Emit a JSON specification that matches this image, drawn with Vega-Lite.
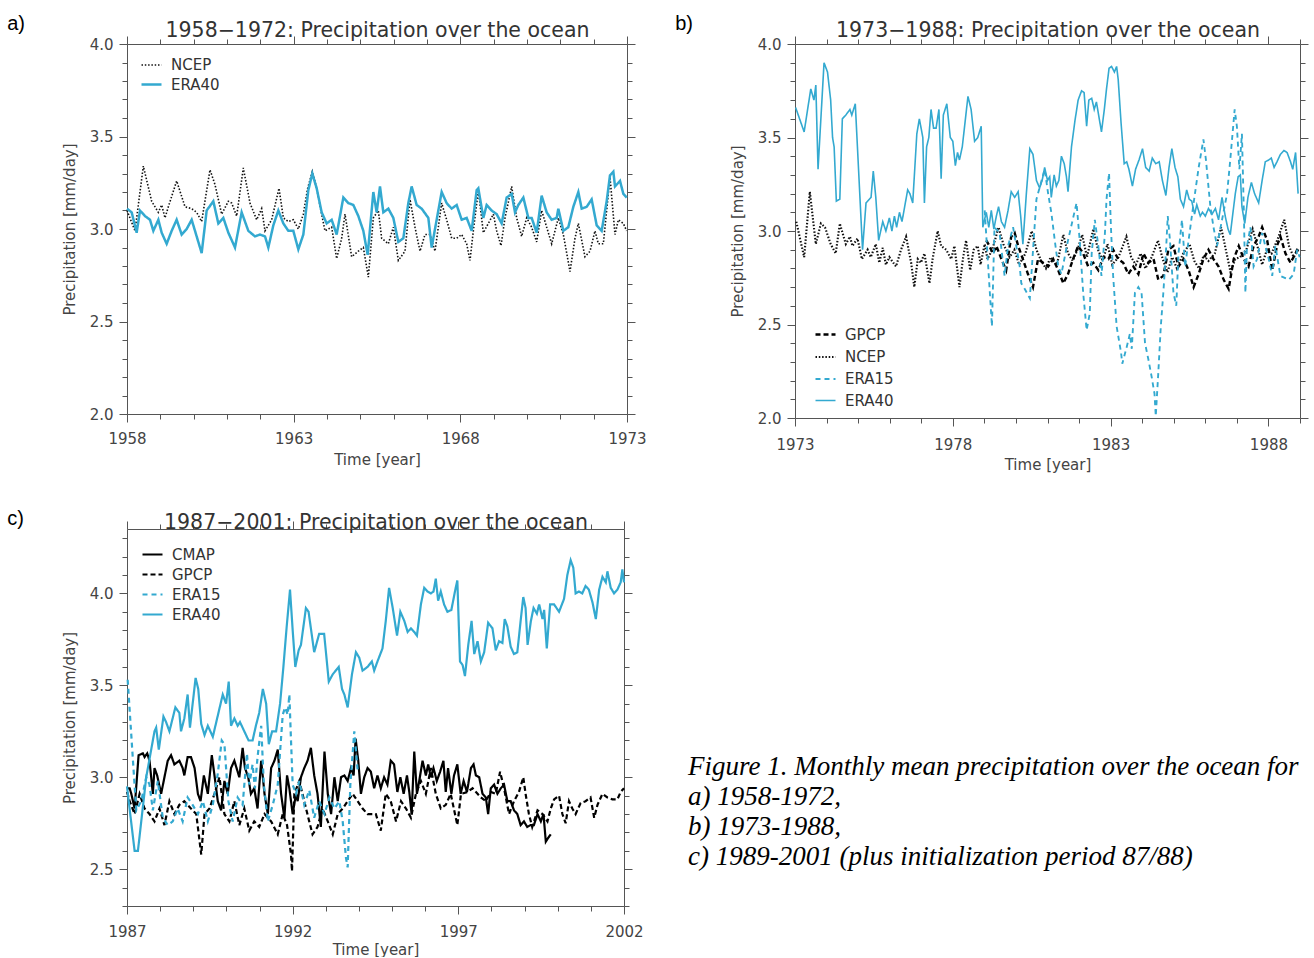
{
"$schema":"https://vega.github.io/schema/vega-lite/v6.json",
"padding":{"left":7,"top":13,"right":0,"bottom":0},
"background":"white",
"config":{
 "font":"DejaVu Sans",
 "view":{"stroke":null},
 "axis":{"domainColor":"#555","tickColor":"#555","labelColor":"#444","titleColor":"#444","labelFont":"DejaVu Sans","labelFontSize":15,"titleFont":"DejaVu Sans","titleFontSize":15,"titleFontWeight":"normal","grid":false,"labelFlush":false,"labelOverlap":false,"tickWidth":1,"domainWidth":1},
 "legend":{"title":null,"symbolType":"stroke","symbolSize":400,"labelFont":"DejaVu Sans","labelFontSize":15,"labelColor":"#333","padding":0,"labelOffset":8},
 "title":{"font":"Liberation Sans","fontSize":20,"fontWeight":"normal","color":"#000","anchor":"start","frame":"bounds"},
 "line":{"clip":true}
},
"resolve":{"scale":{"color":"independent","strokeDash":"independent","strokeWidth":"independent"}},
"datasets":{
"pa":[
{"set":"NCEP","year":1958.00,"mm":3.10},{"set":"NCEP","year":1958.24,"mm":2.99},{"set":"NCEP","year":1958.49,"mm":3.34},{"set":"NCEP","year":1958.74,"mm":3.15},{"set":"NCEP","year":1958.94,"mm":3.09},{"set":"NCEP","year":1959.04,"mm":3.13},{"set":"NCEP","year":1959.14,"mm":3.06},{"set":"NCEP","year":1959.24,"mm":3.12},{"set":"NCEP","year":1959.49,"mm":3.26},{"set":"NCEP","year":1959.74,"mm":3.12},{"set":"NCEP","year":1959.94,"mm":3.11},{"set":"NCEP","year":1960.09,"mm":3.09},{"set":"NCEP","year":1960.24,"mm":3.04},{"set":"NCEP","year":1960.49,"mm":3.32},{"set":"NCEP","year":1960.64,"mm":3.24},{"set":"NCEP","year":1960.84,"mm":3.08},{"set":"NCEP","year":1961.04,"mm":3.15},{"set":"NCEP","year":1961.14,"mm":3.14},{"set":"NCEP","year":1961.29,"mm":3.07},{"set":"NCEP","year":1961.49,"mm":3.33},{"set":"NCEP","year":1961.69,"mm":3.14},{"set":"NCEP","year":1961.89,"mm":3.05},{"set":"NCEP","year":1962.04,"mm":3.11},{"set":"NCEP","year":1962.14,"mm":2.99},{"set":"NCEP","year":1962.34,"mm":3.05},{"set":"NCEP","year":1962.56,"mm":3.22},{"set":"NCEP","year":1962.69,"mm":3.06},{"set":"NCEP","year":1962.84,"mm":3.04},{"set":"NCEP","year":1962.99,"mm":3.05},{"set":"NCEP","year":1963.14,"mm":3.00},{"set":"NCEP","year":1963.29,"mm":3.08},{"set":"NCEP","year":1963.42,"mm":3.22},{"set":"NCEP","year":1963.56,"mm":3.31},{"set":"NCEP","year":1963.69,"mm":3.22},{"set":"NCEP","year":1963.84,"mm":3.08},{"set":"NCEP","year":1963.94,"mm":2.99},{"set":"NCEP","year":1964.14,"mm":3.01},{"set":"NCEP","year":1964.29,"mm":2.84},{"set":"NCEP","year":1964.44,"mm":2.95},{"set":"NCEP","year":1964.54,"mm":3.08},{"set":"NCEP","year":1964.74,"mm":2.85},{"set":"NCEP","year":1964.94,"mm":2.88},{"set":"NCEP","year":1965.09,"mm":2.90},{"set":"NCEP","year":1965.24,"mm":2.74},{"set":"NCEP","year":1965.39,"mm":3.06},{"set":"NCEP","year":1965.54,"mm":3.10},{"set":"NCEP","year":1965.64,"mm":2.95},{"set":"NCEP","year":1965.84,"mm":2.92},{"set":"NCEP","year":1965.99,"mm":3.01},{"set":"NCEP","year":1966.14,"mm":2.83},{"set":"NCEP","year":1966.34,"mm":2.88},{"set":"NCEP","year":1966.49,"mm":3.16},{"set":"NCEP","year":1966.64,"mm":3.01},{"set":"NCEP","year":1966.79,"mm":2.88},{"set":"NCEP","year":1966.94,"mm":2.97},{"set":"NCEP","year":1967.09,"mm":2.97},{"set":"NCEP","year":1967.24,"mm":2.88},{"set":"NCEP","year":1967.44,"mm":3.14},{"set":"NCEP","year":1967.59,"mm":3.05},{"set":"NCEP","year":1967.74,"mm":2.95},{"set":"NCEP","year":1967.89,"mm":2.95},{"set":"NCEP","year":1968.04,"mm":2.97},{"set":"NCEP","year":1968.19,"mm":2.92},{"set":"NCEP","year":1968.29,"mm":2.83},{"set":"NCEP","year":1968.39,"mm":2.99},{"set":"NCEP","year":1968.54,"mm":3.21},{"set":"NCEP","year":1968.69,"mm":2.98},{"set":"NCEP","year":1968.84,"mm":3.03},{"set":"NCEP","year":1968.99,"mm":3.08},{"set":"NCEP","year":1969.09,"mm":2.99},{"set":"NCEP","year":1969.22,"mm":2.91},{"set":"NCEP","year":1969.34,"mm":3.06},{"set":"NCEP","year":1969.54,"mm":3.23},{"set":"NCEP","year":1969.69,"mm":3.06},{"set":"NCEP","year":1969.84,"mm":2.96},{"set":"NCEP","year":1969.99,"mm":3.06},{"set":"NCEP","year":1970.14,"mm":3.01},{"set":"NCEP","year":1970.29,"mm":2.93},{"set":"NCEP","year":1970.44,"mm":3.10},{"set":"NCEP","year":1970.59,"mm":3.01},{"set":"NCEP","year":1970.74,"mm":2.92},{"set":"NCEP","year":1970.94,"mm":3.06},{"set":"NCEP","year":1971.09,"mm":2.97},{"set":"NCEP","year":1971.29,"mm":2.77},{"set":"NCEP","year":1971.44,"mm":2.95},{"set":"NCEP","year":1971.54,"mm":3.03},{"set":"NCEP","year":1971.74,"mm":2.85},{"set":"NCEP","year":1971.89,"mm":2.88},{"set":"NCEP","year":1972.04,"mm":2.99},{"set":"NCEP","year":1972.14,"mm":2.92},{"set":"NCEP","year":1972.29,"mm":2.92},{"set":"NCEP","year":1972.49,"mm":3.28},{"set":"NCEP","year":1972.64,"mm":2.97},{"set":"NCEP","year":1972.74,"mm":3.05},{"set":"NCEP","year":1972.89,"mm":3.03},{"set":"NCEP","year":1972.99,"mm":2.99},
{"set":"ERA40","year":1958.00,"mm":3.11},{"set":"ERA40","year":1958.14,"mm":3.09},{"set":"ERA40","year":1958.29,"mm":2.98},{"set":"ERA40","year":1958.39,"mm":3.10},{"set":"ERA40","year":1958.54,"mm":3.07},{"set":"ERA40","year":1958.69,"mm":3.05},{"set":"ERA40","year":1958.79,"mm":2.99},{"set":"ERA40","year":1958.94,"mm":3.05},{"set":"ERA40","year":1959.04,"mm":2.98},{"set":"ERA40","year":1959.19,"mm":2.92},{"set":"ERA40","year":1959.34,"mm":2.99},{"set":"ERA40","year":1959.49,"mm":3.05},{"set":"ERA40","year":1959.64,"mm":2.97},{"set":"ERA40","year":1959.79,"mm":3.00},{"set":"ERA40","year":1959.94,"mm":3.05},{"set":"ERA40","year":1960.09,"mm":2.96},{"set":"ERA40","year":1960.24,"mm":2.87},{"set":"ERA40","year":1960.39,"mm":3.10},{"set":"ERA40","year":1960.59,"mm":3.15},{"set":"ERA40","year":1960.74,"mm":3.03},{"set":"ERA40","year":1960.89,"mm":3.06},{"set":"ERA40","year":1961.04,"mm":2.98},{"set":"ERA40","year":1961.24,"mm":2.90},{"set":"ERA40","year":1961.44,"mm":3.09},{"set":"ERA40","year":1961.64,"mm":2.99},{"set":"ERA40","year":1961.84,"mm":2.96},{"set":"ERA40","year":1961.99,"mm":2.97},{"set":"ERA40","year":1962.14,"mm":2.96},{"set":"ERA40","year":1962.24,"mm":2.90},{"set":"ERA40","year":1962.39,"mm":3.02},{"set":"ERA40","year":1962.54,"mm":3.10},{"set":"ERA40","year":1962.69,"mm":3.03},{"set":"ERA40","year":1962.84,"mm":2.99},{"set":"ERA40","year":1962.99,"mm":2.99},{"set":"ERA40","year":1963.14,"mm":2.89},{"set":"ERA40","year":1963.29,"mm":2.97},{"set":"ERA40","year":1963.44,"mm":3.21},{"set":"ERA40","year":1963.56,"mm":3.30},{"set":"ERA40","year":1963.69,"mm":3.22},{"set":"ERA40","year":1963.84,"mm":3.09},{"set":"ERA40","year":1963.99,"mm":3.03},{"set":"ERA40","year":1964.14,"mm":3.05},{"set":"ERA40","year":1964.29,"mm":2.97},{"set":"ERA40","year":1964.49,"mm":3.17},{"set":"ERA40","year":1964.64,"mm":3.14},{"set":"ERA40","year":1964.79,"mm":3.13},{"set":"ERA40","year":1964.94,"mm":3.07},{"set":"ERA40","year":1965.09,"mm":2.99},{"set":"ERA40","year":1965.22,"mm":2.86},{"set":"ERA40","year":1965.39,"mm":3.20},{"set":"ERA40","year":1965.49,"mm":3.09},{"set":"ERA40","year":1965.59,"mm":3.23},{"set":"ERA40","year":1965.69,"mm":3.09},{"set":"ERA40","year":1965.84,"mm":3.11},{"set":"ERA40","year":1965.99,"mm":3.06},{"set":"ERA40","year":1966.14,"mm":2.93},{"set":"ERA40","year":1966.29,"mm":2.95},{"set":"ERA40","year":1966.44,"mm":3.14},{"set":"ERA40","year":1966.54,"mm":3.23},{"set":"ERA40","year":1966.69,"mm":3.13},{"set":"ERA40","year":1966.84,"mm":3.11},{"set":"ERA40","year":1967.04,"mm":3.06},{"set":"ERA40","year":1967.14,"mm":2.90},{"set":"ERA40","year":1967.29,"mm":3.05},{"set":"ERA40","year":1967.44,"mm":3.20},{"set":"ERA40","year":1967.59,"mm":3.14},{"set":"ERA40","year":1967.74,"mm":3.11},{"set":"ERA40","year":1967.89,"mm":3.13},{"set":"ERA40","year":1968.04,"mm":3.05},{"set":"ERA40","year":1968.19,"mm":3.06},{"set":"ERA40","year":1968.34,"mm":2.99},{"set":"ERA40","year":1968.49,"mm":3.21},{"set":"ERA40","year":1968.54,"mm":3.22},{"set":"ERA40","year":1968.69,"mm":3.06},{"set":"ERA40","year":1968.79,"mm":3.13},{"set":"ERA40","year":1968.94,"mm":3.10},{"set":"ERA40","year":1969.09,"mm":3.08},{"set":"ERA40","year":1969.24,"mm":3.03},{"set":"ERA40","year":1969.39,"mm":3.17},{"set":"ERA40","year":1969.54,"mm":3.19},{"set":"ERA40","year":1969.64,"mm":3.09},{"set":"ERA40","year":1969.74,"mm":3.13},{"set":"ERA40","year":1969.89,"mm":3.17},{"set":"ERA40","year":1970.04,"mm":3.06},{"set":"ERA40","year":1970.14,"mm":3.06},{"set":"ERA40","year":1970.29,"mm":2.98},{"set":"ERA40","year":1970.44,"mm":3.18},{"set":"ERA40","year":1970.59,"mm":3.09},{"set":"ERA40","year":1970.74,"mm":3.05},{"set":"ERA40","year":1970.89,"mm":3.06},{"set":"ERA40","year":1970.94,"mm":3.11},{"set":"ERA40","year":1971.09,"mm":2.99},{"set":"ERA40","year":1971.24,"mm":3.01},{"set":"ERA40","year":1971.39,"mm":3.12},{"set":"ERA40","year":1971.54,"mm":3.20},{"set":"ERA40","year":1971.64,"mm":3.11},{"set":"ERA40","year":1971.79,"mm":3.12},{"set":"ERA40","year":1971.94,"mm":3.16},{"set":"ERA40","year":1972.09,"mm":3.02},{"set":"ERA40","year":1972.24,"mm":2.99},{"set":"ERA40","year":1972.39,"mm":3.15},{"set":"ERA40","year":1972.49,"mm":3.29},{"set":"ERA40","year":1972.59,"mm":3.31},{"set":"ERA40","year":1972.64,"mm":3.23},{"set":"ERA40","year":1972.79,"mm":3.26},{"set":"ERA40","year":1972.89,"mm":3.19},{"set":"ERA40","year":1972.99,"mm":3.17}
],
"pb":[
{"set":"NCEP","year":1973.04,"mm":3.05},{"set":"NCEP","year":1973.29,"mm":2.86},{"set":"NCEP","year":1973.47,"mm":3.21},{"set":"NCEP","year":1973.66,"mm":2.93},{"set":"NCEP","year":1973.82,"mm":3.04},{"set":"NCEP","year":1973.95,"mm":3.02},{"set":"NCEP","year":1974.13,"mm":2.93},{"set":"NCEP","year":1974.29,"mm":2.88},{"set":"NCEP","year":1974.42,"mm":3.04},{"set":"NCEP","year":1974.61,"mm":2.93},{"set":"NCEP","year":1974.74,"mm":2.97},{"set":"NCEP","year":1974.82,"mm":2.92},{"set":"NCEP","year":1974.98,"mm":2.96},{"set":"NCEP","year":1975.12,"mm":2.85},{"set":"NCEP","year":1975.30,"mm":2.90},{"set":"NCEP","year":1975.40,"mm":2.86},{"set":"NCEP","year":1975.56,"mm":2.93},{"set":"NCEP","year":1975.67,"mm":2.83},{"set":"NCEP","year":1975.78,"mm":2.91},{"set":"NCEP","year":1975.88,"mm":2.82},{"set":"NCEP","year":1975.99,"mm":2.86},{"set":"NCEP","year":1976.20,"mm":2.81},{"set":"NCEP","year":1976.36,"mm":2.90},{"set":"NCEP","year":1976.52,"mm":2.97},{"set":"NCEP","year":1976.68,"mm":2.83},{"set":"NCEP","year":1976.78,"mm":2.70},{"set":"NCEP","year":1976.89,"mm":2.85},{"set":"NCEP","year":1976.99,"mm":2.83},{"set":"NCEP","year":1977.10,"mm":2.88},{"set":"NCEP","year":1977.26,"mm":2.72},{"set":"NCEP","year":1977.36,"mm":2.85},{"set":"NCEP","year":1977.52,"mm":3.00},{"set":"NCEP","year":1977.63,"mm":2.92},{"set":"NCEP","year":1977.79,"mm":2.90},{"set":"NCEP","year":1977.95,"mm":2.85},{"set":"NCEP","year":1978.05,"mm":2.92},{"set":"NCEP","year":1978.21,"mm":2.70},{"set":"NCEP","year":1978.32,"mm":2.85},{"set":"NCEP","year":1978.42,"mm":2.95},{"set":"NCEP","year":1978.55,"mm":2.79},{"set":"NCEP","year":1978.66,"mm":2.90},{"set":"NCEP","year":1978.79,"mm":2.92},{"set":"NCEP","year":1978.88,"mm":2.82},{"set":"NCEP","year":1979.01,"mm":2.93},{"set":"NCEP","year":1979.10,"mm":2.85},{"set":"NCEP","year":1979.25,"mm":2.90},{"set":"NCEP","year":1979.45,"mm":3.02},{"set":"NCEP","year":1979.60,"mm":2.93},{"set":"NCEP","year":1979.80,"mm":2.86},{"set":"NCEP","year":1979.95,"mm":2.90},{"set":"NCEP","year":1980.10,"mm":2.82},{"set":"NCEP","year":1980.30,"mm":2.88},{"set":"NCEP","year":1980.50,"mm":3.00},{"set":"NCEP","year":1980.65,"mm":2.90},{"set":"NCEP","year":1980.80,"mm":2.84},{"set":"NCEP","year":1980.95,"mm":2.80},{"set":"NCEP","year":1981.10,"mm":2.86},{"set":"NCEP","year":1981.30,"mm":2.82},{"set":"NCEP","year":1981.50,"mm":2.98},{"set":"NCEP","year":1981.65,"mm":2.88},{"set":"NCEP","year":1981.80,"mm":2.84},{"set":"NCEP","year":1981.95,"mm":2.90},{"set":"NCEP","year":1982.10,"mm":2.98},{"set":"NCEP","year":1982.25,"mm":2.86},{"set":"NCEP","year":1982.45,"mm":3.01},{"set":"NCEP","year":1982.60,"mm":2.90},{"set":"NCEP","year":1982.75,"mm":2.84},{"set":"NCEP","year":1982.90,"mm":2.93},{"set":"NCEP","year":1983.05,"mm":2.82},{"set":"NCEP","year":1983.25,"mm":2.86},{"set":"NCEP","year":1983.50,"mm":2.97},{"set":"NCEP","year":1983.65,"mm":2.86},{"set":"NCEP","year":1983.80,"mm":2.82},{"set":"NCEP","year":1983.95,"mm":2.88},{"set":"NCEP","year":1984.10,"mm":2.80},{"set":"NCEP","year":1984.30,"mm":2.86},{"set":"NCEP","year":1984.50,"mm":2.95},{"set":"NCEP","year":1984.65,"mm":2.85},{"set":"NCEP","year":1984.80,"mm":2.78},{"set":"NCEP","year":1984.95,"mm":2.86},{"set":"NCEP","year":1985.10,"mm":2.80},{"set":"NCEP","year":1985.30,"mm":2.88},{"set":"NCEP","year":1985.50,"mm":2.93},{"set":"NCEP","year":1985.65,"mm":2.84},{"set":"NCEP","year":1985.80,"mm":2.80},{"set":"NCEP","year":1985.95,"mm":2.87},{"set":"NCEP","year":1986.10,"mm":2.84},{"set":"NCEP","year":1986.30,"mm":2.88},{"set":"NCEP","year":1986.50,"mm":3.02},{"set":"NCEP","year":1986.65,"mm":2.90},{"set":"NCEP","year":1986.80,"mm":2.78},{"set":"NCEP","year":1986.95,"mm":2.85},{"set":"NCEP","year":1987.10,"mm":2.86},{"set":"NCEP","year":1987.30,"mm":2.90},{"set":"NCEP","year":1987.50,"mm":3.01},{"set":"NCEP","year":1987.65,"mm":2.92},{"set":"NCEP","year":1987.80,"mm":2.82},{"set":"NCEP","year":1987.95,"mm":2.90},{"set":"NCEP","year":1988.10,"mm":2.88},{"set":"NCEP","year":1988.30,"mm":2.96},{"set":"NCEP","year":1988.50,"mm":3.06},{"set":"NCEP","year":1988.65,"mm":2.92},{"set":"NCEP","year":1988.80,"mm":2.86},{"set":"NCEP","year":1988.95,"mm":2.90},
{"set":"GPCP","year":1979.06,"mm":2.95},{"set":"GPCP","year":1979.16,"mm":2.92},{"set":"GPCP","year":1979.27,"mm":2.88},{"set":"GPCP","year":1979.38,"mm":2.92},{"set":"GPCP","year":1979.54,"mm":2.85},{"set":"GPCP","year":1979.69,"mm":2.79},{"set":"GPCP","year":1979.85,"mm":2.97},{"set":"GPCP","year":1979.96,"mm":2.99},{"set":"GPCP","year":1980.07,"mm":2.92},{"set":"GPCP","year":1980.22,"mm":2.85},{"set":"GPCP","year":1980.38,"mm":2.77},{"set":"GPCP","year":1980.54,"mm":2.70},{"set":"GPCP","year":1980.70,"mm":2.85},{"set":"GPCP","year":1980.86,"mm":2.83},{"set":"GPCP","year":1981.02,"mm":2.81},{"set":"GPCP","year":1981.18,"mm":2.85},{"set":"GPCP","year":1981.34,"mm":2.79},{"set":"GPCP","year":1981.50,"mm":2.72},{"set":"GPCP","year":1981.65,"mm":2.77},{"set":"GPCP","year":1981.81,"mm":2.85},{"set":"GPCP","year":1981.97,"mm":2.92},{"set":"GPCP","year":1982.13,"mm":2.88},{"set":"GPCP","year":1982.29,"mm":2.81},{"set":"GPCP","year":1982.45,"mm":2.83},{"set":"GPCP","year":1982.61,"mm":2.79},{"set":"GPCP","year":1982.77,"mm":2.86},{"set":"GPCP","year":1982.93,"mm":2.85},{"set":"GPCP","year":1983.08,"mm":2.90},{"set":"GPCP","year":1983.24,"mm":2.85},{"set":"GPCP","year":1983.40,"mm":2.83},{"set":"GPCP","year":1983.56,"mm":2.77},{"set":"GPCP","year":1983.72,"mm":2.81},{"set":"GPCP","year":1983.88,"mm":2.77},{"set":"GPCP","year":1984.04,"mm":2.88},{"set":"GPCP","year":1984.20,"mm":2.83},{"set":"GPCP","year":1984.36,"mm":2.85},{"set":"GPCP","year":1984.51,"mm":2.74},{"set":"GPCP","year":1984.67,"mm":2.76},{"set":"GPCP","year":1984.83,"mm":2.90},{"set":"GPCP","year":1984.99,"mm":2.92},{"set":"GPCP","year":1985.15,"mm":2.81},{"set":"GPCP","year":1985.31,"mm":2.85},{"set":"GPCP","year":1985.47,"mm":2.79},{"set":"GPCP","year":1985.63,"mm":2.70},{"set":"GPCP","year":1985.79,"mm":2.77},{"set":"GPCP","year":1985.94,"mm":2.85},{"set":"GPCP","year":1986.10,"mm":2.90},{"set":"GPCP","year":1986.26,"mm":2.85},{"set":"GPCP","year":1986.42,"mm":2.81},{"set":"GPCP","year":1986.58,"mm":2.74},{"set":"GPCP","year":1986.74,"mm":2.69},{"set":"GPCP","year":1986.90,"mm":2.85},{"set":"GPCP","year":1987.06,"mm":2.92},{"set":"GPCP","year":1987.22,"mm":2.85},{"set":"GPCP","year":1987.37,"mm":2.81},{"set":"GPCP","year":1987.53,"mm":2.92},{"set":"GPCP","year":1987.69,"mm":2.97},{"set":"GPCP","year":1987.80,"mm":3.02},{"set":"GPCP","year":1987.96,"mm":2.95},{"set":"GPCP","year":1988.12,"mm":2.79},{"set":"GPCP","year":1988.27,"mm":2.92},{"set":"GPCP","year":1988.38,"mm":2.97},{"set":"GPCP","year":1988.54,"mm":2.88},{"set":"GPCP","year":1988.70,"mm":2.83},{"set":"GPCP","year":1988.86,"mm":2.88},{"set":"GPCP","year":1988.96,"mm":2.92},
{"set":"ERA15","year":1979.01,"mm":3.11},{"set":"ERA15","year":1979.24,"mm":2.49},{"set":"ERA15","year":1979.32,"mm":3.02},{"set":"ERA15","year":1979.48,"mm":2.99},{"set":"ERA15","year":1979.64,"mm":2.76},{"set":"ERA15","year":1979.75,"mm":2.92},{"set":"ERA15","year":1979.91,"mm":3.02},{"set":"ERA15","year":1980.01,"mm":2.92},{"set":"ERA15","year":1980.12,"mm":2.81},{"set":"ERA15","year":1980.17,"mm":2.72},{"set":"ERA15","year":1980.28,"mm":2.69},{"set":"ERA15","year":1980.44,"mm":2.64},{"set":"ERA15","year":1980.59,"mm":3.02},{"set":"ERA15","year":1980.65,"mm":3.17},{"set":"ERA15","year":1980.91,"mm":3.33},{"set":"ERA15","year":1981.02,"mm":3.20},{"set":"ERA15","year":1981.12,"mm":3.10},{"set":"ERA15","year":1981.23,"mm":2.95},{"set":"ERA15","year":1981.34,"mm":2.81},{"set":"ERA15","year":1981.44,"mm":2.77},{"set":"ERA15","year":1981.65,"mm":2.95},{"set":"ERA15","year":1981.92,"mm":3.15},{"set":"ERA15","year":1982.02,"mm":2.95},{"set":"ERA15","year":1982.13,"mm":2.67},{"set":"ERA15","year":1982.24,"mm":2.47},{"set":"ERA15","year":1982.34,"mm":2.56},{"set":"ERA15","year":1982.40,"mm":2.88},{"set":"ERA15","year":1982.50,"mm":3.06},{"set":"ERA15","year":1982.61,"mm":2.92},{"set":"ERA15","year":1982.71,"mm":2.76},{"set":"ERA15","year":1982.82,"mm":2.99},{"set":"ERA15","year":1982.87,"mm":3.17},{"set":"ERA15","year":1982.95,"mm":3.31},{"set":"ERA15","year":1983.01,"mm":3.02},{"set":"ERA15","year":1983.08,"mm":2.76},{"set":"ERA15","year":1983.19,"mm":2.49},{"set":"ERA15","year":1983.33,"mm":2.35},{"set":"ERA15","year":1983.37,"mm":2.29},{"set":"ERA15","year":1983.51,"mm":2.38},{"set":"ERA15","year":1983.61,"mm":2.45},{"set":"ERA15","year":1983.67,"mm":2.37},{"set":"ERA15","year":1983.77,"mm":2.67},{"set":"ERA15","year":1983.88,"mm":2.70},{"set":"ERA15","year":1983.98,"mm":2.67},{"set":"ERA15","year":1984.09,"mm":2.40},{"set":"ERA15","year":1984.20,"mm":2.31},{"set":"ERA15","year":1984.30,"mm":2.22},{"set":"ERA15","year":1984.39,"mm":2.13},{"set":"ERA15","year":1984.43,"mm":2.01},{"set":"ERA15","year":1984.51,"mm":2.24},{"set":"ERA15","year":1984.59,"mm":2.49},{"set":"ERA15","year":1984.67,"mm":2.67},{"set":"ERA15","year":1984.75,"mm":2.88},{"set":"ERA15","year":1984.81,"mm":3.08},{"set":"ERA15","year":1984.88,"mm":2.95},{"set":"ERA15","year":1984.99,"mm":2.67},{"set":"ERA15","year":1985.08,"mm":2.60},{"set":"ERA15","year":1985.15,"mm":2.88},{"set":"ERA15","year":1985.26,"mm":3.06},{"set":"ERA15","year":1985.36,"mm":2.81},{"set":"ERA15","year":1985.47,"mm":2.95},{"set":"ERA15","year":1985.63,"mm":3.15},{"set":"ERA15","year":1985.79,"mm":3.34},{"set":"ERA15","year":1985.94,"mm":3.49},{"set":"ERA15","year":1986.02,"mm":3.38},{"set":"ERA15","year":1986.16,"mm":3.13},{"set":"ERA15","year":1986.26,"mm":3.02},{"set":"ERA15","year":1986.37,"mm":2.92},{"set":"ERA15","year":1986.53,"mm":3.06},{"set":"ERA15","year":1986.69,"mm":3.20},{"set":"ERA15","year":1986.79,"mm":3.38},{"set":"ERA15","year":1986.93,"mm":3.65},{"set":"ERA15","year":1987.00,"mm":3.56},{"set":"ERA15","year":1987.08,"mm":3.33},{"set":"ERA15","year":1987.16,"mm":3.52},{"set":"ERA15","year":1987.22,"mm":3.11},{"set":"ERA15","year":1987.27,"mm":2.67},{"set":"ERA15","year":1987.32,"mm":2.92},{"set":"ERA15","year":1987.43,"mm":3.02},{"set":"ERA15","year":1987.53,"mm":2.81},{"set":"ERA15","year":1987.64,"mm":2.85},{"set":"ERA15","year":1987.80,"mm":2.99},{"set":"ERA15","year":1987.90,"mm":2.92},{"set":"ERA15","year":1988.01,"mm":2.85},{"set":"ERA15","year":1988.12,"mm":2.76},{"set":"ERA15","year":1988.22,"mm":2.92},{"set":"ERA15","year":1988.38,"mm":2.76},{"set":"ERA15","year":1988.65,"mm":2.74},{"set":"ERA15","year":1988.80,"mm":2.77},{"set":"ERA15","year":1988.91,"mm":2.90},{"set":"ERA15","year":1988.99,"mm":2.86},
{"set":"ERA40","year":1973.02,"mm":3.66},{"set":"ERA40","year":1973.29,"mm":3.53},{"set":"ERA40","year":1973.50,"mm":3.76},{"set":"ERA40","year":1973.60,"mm":3.70},{"set":"ERA40","year":1973.66,"mm":3.78},{"set":"ERA40","year":1973.73,"mm":3.33},{"set":"ERA40","year":1973.92,"mm":3.90},{"set":"ERA40","year":1974.03,"mm":3.85},{"set":"ERA40","year":1974.13,"mm":3.70},{"set":"ERA40","year":1974.19,"mm":3.50},{"set":"ERA40","year":1974.24,"mm":3.45},{"set":"ERA40","year":1974.31,"mm":3.16},{"set":"ERA40","year":1974.42,"mm":3.17},{"set":"ERA40","year":1974.50,"mm":3.60},{"set":"ERA40","year":1974.61,"mm":3.62},{"set":"ERA40","year":1974.74,"mm":3.65},{"set":"ERA40","year":1974.80,"mm":3.62},{"set":"ERA40","year":1974.91,"mm":3.68},{"set":"ERA40","year":1975.14,"mm":2.90},{"set":"ERA40","year":1975.25,"mm":3.15},{"set":"ERA40","year":1975.41,"mm":3.18},{"set":"ERA40","year":1975.48,"mm":3.32},{"set":"ERA40","year":1975.56,"mm":3.18},{"set":"ERA40","year":1975.65,"mm":2.95},{"set":"ERA40","year":1975.78,"mm":3.05},{"set":"ERA40","year":1975.88,"mm":3.00},{"set":"ERA40","year":1975.99,"mm":3.07},{"set":"ERA40","year":1976.07,"mm":3.00},{"set":"ERA40","year":1976.15,"mm":3.08},{"set":"ERA40","year":1976.22,"mm":3.02},{"set":"ERA40","year":1976.31,"mm":3.10},{"set":"ERA40","year":1976.39,"mm":3.05},{"set":"ERA40","year":1976.57,"mm":3.22},{"set":"ERA40","year":1976.64,"mm":3.20},{"set":"ERA40","year":1976.73,"mm":3.15},{"set":"ERA40","year":1976.86,"mm":3.52},{"set":"ERA40","year":1976.94,"mm":3.60},{"set":"ERA40","year":1977.05,"mm":3.50},{"set":"ERA40","year":1977.10,"mm":3.15},{"set":"ERA40","year":1977.17,"mm":3.45},{"set":"ERA40","year":1977.24,"mm":3.50},{"set":"ERA40","year":1977.31,"mm":3.65},{"set":"ERA40","year":1977.39,"mm":3.55},{"set":"ERA40","year":1977.47,"mm":3.55},{"set":"ERA40","year":1977.56,"mm":3.65},{"set":"ERA40","year":1977.63,"mm":3.28},{"set":"ERA40","year":1977.70,"mm":3.62},{"set":"ERA40","year":1977.81,"mm":3.68},{"set":"ERA40","year":1977.92,"mm":3.50},{"set":"ERA40","year":1978.00,"mm":3.48},{"set":"ERA40","year":1978.08,"mm":3.35},{"set":"ERA40","year":1978.15,"mm":3.42},{"set":"ERA40","year":1978.21,"mm":3.38},{"set":"ERA40","year":1978.30,"mm":3.45},{"set":"ERA40","year":1978.40,"mm":3.60},{"set":"ERA40","year":1978.48,"mm":3.72},{"set":"ERA40","year":1978.58,"mm":3.65},{"set":"ERA40","year":1978.69,"mm":3.48},{"set":"ERA40","year":1978.79,"mm":3.50},{"set":"ERA40","year":1978.90,"mm":3.56},{"set":"ERA40","year":1978.95,"mm":3.02},{"set":"ERA40","year":1979.06,"mm":3.10},{"set":"ERA40","year":1979.14,"mm":3.02},{"set":"ERA40","year":1979.22,"mm":3.11},{"set":"ERA40","year":1979.30,"mm":3.01},{"set":"ERA40","year":1979.38,"mm":3.08},{"set":"ERA40","year":1979.45,"mm":3.13},{"set":"ERA40","year":1979.54,"mm":3.05},{"set":"ERA40","year":1979.64,"mm":3.02},{"set":"ERA40","year":1979.75,"mm":3.11},{"set":"ERA40","year":1979.85,"mm":3.21},{"set":"ERA40","year":1979.96,"mm":3.18},{"set":"ERA40","year":1980.07,"mm":3.21},{"set":"ERA40","year":1980.15,"mm":3.08},{"set":"ERA40","year":1980.22,"mm":2.93},{"set":"ERA40","year":1980.33,"mm":3.20},{"set":"ERA40","year":1980.44,"mm":3.44},{"set":"ERA40","year":1980.54,"mm":3.41},{"set":"ERA40","year":1980.65,"mm":3.27},{"set":"ERA40","year":1980.75,"mm":3.23},{"set":"ERA40","year":1980.83,"mm":3.27},{"set":"ERA40","year":1980.91,"mm":3.34},{"set":"ERA40","year":1981.00,"mm":3.27},{"set":"ERA40","year":1981.07,"mm":3.29},{"set":"ERA40","year":1981.12,"mm":3.18},{"set":"ERA40","year":1981.21,"mm":3.30},{"set":"ERA40","year":1981.28,"mm":3.24},{"set":"ERA40","year":1981.36,"mm":3.27},{"set":"ERA40","year":1981.44,"mm":3.40},{"set":"ERA40","year":1981.53,"mm":3.36},{"set":"ERA40","year":1981.60,"mm":3.29},{"set":"ERA40","year":1981.65,"mm":3.21},{"set":"ERA40","year":1981.76,"mm":3.45},{"set":"ERA40","year":1981.87,"mm":3.59},{"set":"ERA40","year":1981.97,"mm":3.70},{"set":"ERA40","year":1982.08,"mm":3.75},{"set":"ERA40","year":1982.16,"mm":3.74},{"set":"ERA40","year":1982.24,"mm":3.56},{"set":"ERA40","year":1982.31,"mm":3.70},{"set":"ERA40","year":1982.40,"mm":3.71},{"set":"ERA40","year":1982.48,"mm":3.65},{"set":"ERA40","year":1982.55,"mm":3.69},{"set":"ERA40","year":1982.63,"mm":3.61},{"set":"ERA40","year":1982.71,"mm":3.53},{"set":"ERA40","year":1982.80,"mm":3.65},{"set":"ERA40","year":1982.87,"mm":3.76},{"set":"ERA40","year":1982.95,"mm":3.87},{"set":"ERA40","year":1983.03,"mm":3.88},{"set":"ERA40","year":1983.12,"mm":3.85},{"set":"ERA40","year":1983.19,"mm":3.88},{"set":"ERA40","year":1983.24,"mm":3.81},{"set":"ERA40","year":1983.33,"mm":3.58},{"set":"ERA40","year":1983.43,"mm":3.36},{"set":"ERA40","year":1983.51,"mm":3.37},{"set":"ERA40","year":1983.58,"mm":3.33},{"set":"ERA40","year":1983.69,"mm":3.24},{"set":"ERA40","year":1983.79,"mm":3.33},{"set":"ERA40","year":1983.90,"mm":3.38},{"set":"ERA40","year":1984.01,"mm":3.44},{"set":"ERA40","year":1984.11,"mm":3.34},{"set":"ERA40","year":1984.22,"mm":3.32},{"set":"ERA40","year":1984.32,"mm":3.39},{"set":"ERA40","year":1984.43,"mm":3.36},{"set":"ERA40","year":1984.54,"mm":3.37},{"set":"ERA40","year":1984.64,"mm":3.27},{"set":"ERA40","year":1984.75,"mm":3.19},{"set":"ERA40","year":1984.85,"mm":3.34},{"set":"ERA40","year":1984.94,"mm":3.44},{"set":"ERA40","year":1985.04,"mm":3.34},{"set":"ERA40","year":1985.13,"mm":3.29},{"set":"ERA40","year":1985.21,"mm":3.17},{"set":"ERA40","year":1985.31,"mm":3.13},{"set":"ERA40","year":1985.41,"mm":3.22},{"set":"ERA40","year":1985.49,"mm":3.17},{"set":"ERA40","year":1985.57,"mm":3.16},{"set":"ERA40","year":1985.66,"mm":3.09},{"set":"ERA40","year":1985.73,"mm":3.14},{"set":"ERA40","year":1985.84,"mm":3.08},{"set":"ERA40","year":1985.91,"mm":3.10},{"set":"ERA40","year":1986.00,"mm":3.08},{"set":"ERA40","year":1986.10,"mm":3.12},{"set":"ERA40","year":1986.21,"mm":3.09},{"set":"ERA40","year":1986.32,"mm":3.12},{"set":"ERA40","year":1986.42,"mm":3.06},{"set":"ERA40","year":1986.53,"mm":3.18},{"set":"ERA40","year":1986.63,"mm":3.08},{"set":"ERA40","year":1986.72,"mm":3.01},{"set":"ERA40","year":1986.79,"mm":2.98},{"set":"ERA40","year":1986.87,"mm":3.09},{"set":"ERA40","year":1986.95,"mm":3.20},{"set":"ERA40","year":1987.04,"mm":3.29},{"set":"ERA40","year":1987.11,"mm":3.30},{"set":"ERA40","year":1987.16,"mm":3.13},{"set":"ERA40","year":1987.25,"mm":3.04},{"set":"ERA40","year":1987.35,"mm":3.18},{"set":"ERA40","year":1987.46,"mm":3.26},{"set":"ERA40","year":1987.56,"mm":3.20},{"set":"ERA40","year":1987.69,"mm":3.15},{"set":"ERA40","year":1987.80,"mm":3.27},{"set":"ERA40","year":1987.90,"mm":3.37},{"set":"ERA40","year":1988.01,"mm":3.38},{"set":"ERA40","year":1988.09,"mm":3.39},{"set":"ERA40","year":1988.18,"mm":3.34},{"set":"ERA40","year":1988.27,"mm":3.37},{"set":"ERA40","year":1988.38,"mm":3.41},{"set":"ERA40","year":1988.49,"mm":3.43},{"set":"ERA40","year":1988.59,"mm":3.42},{"set":"ERA40","year":1988.70,"mm":3.37},{"set":"ERA40","year":1988.77,"mm":3.33},{"set":"ERA40","year":1988.86,"mm":3.42},{"set":"ERA40","year":1988.94,"mm":3.20}
],
"pc":[
{"set":"GPCP","year":1987.00,"mm":2.92},{"set":"GPCP","year":1987.08,"mm":2.87},{"set":"GPCP","year":1987.23,"mm":2.80},{"set":"GPCP","year":1987.38,"mm":2.91},{"set":"GPCP","year":1987.53,"mm":2.83},{"set":"GPCP","year":1987.68,"mm":2.80},{"set":"GPCP","year":1987.83,"mm":2.76},{"set":"GPCP","year":1987.98,"mm":2.83},{"set":"GPCP","year":1988.13,"mm":2.74},{"set":"GPCP","year":1988.28,"mm":2.87},{"set":"GPCP","year":1988.43,"mm":2.80},{"set":"GPCP","year":1988.58,"mm":2.85},{"set":"GPCP","year":1988.73,"mm":2.87},{"set":"GPCP","year":1988.93,"mm":2.83},{"set":"GPCP","year":1989.09,"mm":2.80},{"set":"GPCP","year":1989.24,"mm":2.58},{"set":"GPCP","year":1989.34,"mm":2.80},{"set":"GPCP","year":1989.49,"mm":2.83},{"set":"GPCP","year":1989.64,"mm":2.91},{"set":"GPCP","year":1989.79,"mm":3.00},{"set":"GPCP","year":1989.94,"mm":2.80},{"set":"GPCP","year":1990.09,"mm":2.76},{"set":"GPCP","year":1990.24,"mm":2.87},{"set":"GPCP","year":1990.39,"mm":2.74},{"set":"GPCP","year":1990.54,"mm":2.83},{"set":"GPCP","year":1990.69,"mm":2.71},{"set":"GPCP","year":1990.84,"mm":2.76},{"set":"GPCP","year":1990.99,"mm":2.73},{"set":"GPCP","year":1991.15,"mm":2.80},{"set":"GPCP","year":1991.35,"mm":2.76},{"set":"GPCP","year":1991.55,"mm":2.69},{"set":"GPCP","year":1991.70,"mm":2.80},{"set":"GPCP","year":1991.83,"mm":2.74},{"set":"GPCP","year":1991.95,"mm":2.58},{"set":"GPCP","year":1991.98,"mm":2.49},{"set":"GPCP","year":1992.05,"mm":2.91},{"set":"GPCP","year":1992.20,"mm":2.98},{"set":"GPCP","year":1992.35,"mm":2.87},{"set":"GPCP","year":1992.50,"mm":2.76},{"set":"GPCP","year":1992.60,"mm":2.69},{"set":"GPCP","year":1992.75,"mm":2.73},{"set":"GPCP","year":1992.90,"mm":2.83},{"set":"GPCP","year":1993.06,"mm":2.76},{"set":"GPCP","year":1993.21,"mm":2.69},{"set":"GPCP","year":1993.36,"mm":2.80},{"set":"GPCP","year":1993.51,"mm":2.83},{"set":"GPCP","year":1993.66,"mm":2.87},{"set":"GPCP","year":1993.81,"mm":2.91},{"set":"GPCP","year":1993.96,"mm":2.87},{"set":"GPCP","year":1994.11,"mm":2.83},{"set":"GPCP","year":1994.26,"mm":2.80},{"set":"GPCP","year":1994.51,"mm":2.80},{"set":"GPCP","year":1994.66,"mm":2.71},{"set":"GPCP","year":1994.81,"mm":2.91},{"set":"GPCP","year":1994.96,"mm":2.87},{"set":"GPCP","year":1995.12,"mm":2.76},{"set":"GPCP","year":1995.27,"mm":2.87},{"set":"GPCP","year":1995.42,"mm":2.83},{"set":"GPCP","year":1995.57,"mm":2.78},{"set":"GPCP","year":1995.72,"mm":2.91},{"set":"GPCP","year":1995.87,"mm":2.98},{"set":"GPCP","year":1996.02,"mm":2.91},{"set":"GPCP","year":1996.17,"mm":3.05},{"set":"GPCP","year":1996.32,"mm":2.91},{"set":"GPCP","year":1996.47,"mm":2.83},{"set":"GPCP","year":1996.62,"mm":2.85},{"set":"GPCP","year":1996.77,"mm":2.91},{"set":"GPCP","year":1996.97,"mm":2.74},{"set":"GPCP","year":1997.08,"mm":2.91},{"set":"GPCP","year":1997.28,"mm":2.92},{"set":"GPCP","year":1997.43,"mm":2.94},{"set":"GPCP","year":1997.58,"mm":2.91},{"set":"GPCP","year":1997.68,"mm":2.89},{"set":"GPCP","year":1997.83,"mm":2.87},{"set":"GPCP","year":1997.98,"mm":2.92},{"set":"GPCP","year":1998.13,"mm":2.91},{"set":"GPCP","year":1998.26,"mm":3.03},{"set":"GPCP","year":1998.38,"mm":2.94},{"set":"GPCP","year":1998.53,"mm":2.80},{"set":"GPCP","year":1998.68,"mm":2.87},{"set":"GPCP","year":1998.83,"mm":2.92},{"set":"GPCP","year":1998.96,"mm":3.00},{"set":"GPCP","year":1999.03,"mm":2.91},{"set":"GPCP","year":1999.13,"mm":2.80},{"set":"GPCP","year":1999.23,"mm":2.73},{"set":"GPCP","year":1999.39,"mm":2.82},{"set":"GPCP","year":1999.54,"mm":2.80},{"set":"GPCP","year":1999.69,"mm":2.76},{"set":"GPCP","year":1999.79,"mm":2.83},{"set":"GPCP","year":1999.89,"mm":2.88},{"set":"GPCP","year":2000.04,"mm":2.90},{"set":"GPCP","year":2000.14,"mm":2.80},{"set":"GPCP","year":2000.24,"mm":2.75},{"set":"GPCP","year":2000.34,"mm":2.87},{"set":"GPCP","year":2000.44,"mm":2.83},{"set":"GPCP","year":2000.54,"mm":2.80},{"set":"GPCP","year":2000.69,"mm":2.86},{"set":"GPCP","year":2000.84,"mm":2.87},{"set":"GPCP","year":2000.99,"mm":2.89},{"set":"GPCP","year":2001.10,"mm":2.78},{"set":"GPCP","year":2001.20,"mm":2.85},{"set":"GPCP","year":2001.35,"mm":2.91},{"set":"GPCP","year":2001.50,"mm":2.89},{"set":"GPCP","year":2001.65,"mm":2.88},{"set":"GPCP","year":2001.80,"mm":2.88},{"set":"GPCP","year":2001.90,"mm":2.92},{"set":"GPCP","year":2002.00,"mm":2.94},
{"set":"CMAP","year":1987.00,"mm":2.94},{"set":"CMAP","year":1987.08,"mm":2.94},{"set":"CMAP","year":1987.13,"mm":2.91},{"set":"CMAP","year":1987.23,"mm":2.83},{"set":"CMAP","year":1987.35,"mm":3.12},{"set":"CMAP","year":1987.48,"mm":3.13},{"set":"CMAP","year":1987.53,"mm":3.11},{"set":"CMAP","year":1987.61,"mm":3.13},{"set":"CMAP","year":1987.68,"mm":3.09},{"set":"CMAP","year":1987.78,"mm":2.91},{"set":"CMAP","year":1987.83,"mm":3.05},{"set":"CMAP","year":1987.91,"mm":3.01},{"set":"CMAP","year":1988.03,"mm":2.91},{"set":"CMAP","year":1988.13,"mm":3.00},{"set":"CMAP","year":1988.23,"mm":3.09},{"set":"CMAP","year":1988.33,"mm":3.12},{"set":"CMAP","year":1988.43,"mm":3.07},{"set":"CMAP","year":1988.58,"mm":3.09},{"set":"CMAP","year":1988.68,"mm":3.05},{"set":"CMAP","year":1988.73,"mm":3.01},{"set":"CMAP","year":1988.83,"mm":3.11},{"set":"CMAP","year":1988.93,"mm":3.11},{"set":"CMAP","year":1989.04,"mm":3.05},{"set":"CMAP","year":1989.14,"mm":2.91},{"set":"CMAP","year":1989.22,"mm":2.87},{"set":"CMAP","year":1989.32,"mm":3.01},{"set":"CMAP","year":1989.44,"mm":2.91},{"set":"CMAP","year":1989.56,"mm":3.12},{"set":"CMAP","year":1989.64,"mm":3.01},{"set":"CMAP","year":1989.74,"mm":2.87},{"set":"CMAP","year":1989.84,"mm":2.82},{"set":"CMAP","year":1989.94,"mm":2.98},{"set":"CMAP","year":1990.04,"mm":2.91},{"set":"CMAP","year":1990.14,"mm":3.05},{"set":"CMAP","year":1990.24,"mm":3.09},{"set":"CMAP","year":1990.39,"mm":3.00},{"set":"CMAP","year":1990.49,"mm":3.16},{"set":"CMAP","year":1990.56,"mm":3.05},{"set":"CMAP","year":1990.66,"mm":3.00},{"set":"CMAP","year":1990.74,"mm":2.91},{"set":"CMAP","year":1990.84,"mm":2.94},{"set":"CMAP","year":1990.94,"mm":2.83},{"set":"CMAP","year":1991.05,"mm":3.09},{"set":"CMAP","year":1991.15,"mm":2.91},{"set":"CMAP","year":1991.25,"mm":2.80},{"set":"CMAP","year":1991.35,"mm":3.05},{"set":"CMAP","year":1991.45,"mm":3.09},{"set":"CMAP","year":1991.55,"mm":3.15},{"set":"CMAP","year":1991.65,"mm":2.91},{"set":"CMAP","year":1991.75,"mm":2.78},{"set":"CMAP","year":1991.83,"mm":3.01},{"set":"CMAP","year":1991.90,"mm":2.94},{"set":"CMAP","year":1992.00,"mm":2.80},{"set":"CMAP","year":1992.10,"mm":2.91},{"set":"CMAP","year":1992.15,"mm":2.87},{"set":"CMAP","year":1992.25,"mm":3.00},{"set":"CMAP","year":1992.35,"mm":3.05},{"set":"CMAP","year":1992.45,"mm":3.09},{"set":"CMAP","year":1992.55,"mm":3.16},{"set":"CMAP","year":1992.65,"mm":3.01},{"set":"CMAP","year":1992.75,"mm":2.91},{"set":"CMAP","year":1992.85,"mm":2.73},{"set":"CMAP","year":1992.96,"mm":3.14},{"set":"CMAP","year":1993.06,"mm":2.91},{"set":"CMAP","year":1993.16,"mm":2.80},{"set":"CMAP","year":1993.26,"mm":3.00},{"set":"CMAP","year":1993.36,"mm":2.87},{"set":"CMAP","year":1993.46,"mm":3.00},{"set":"CMAP","year":1993.56,"mm":3.01},{"set":"CMAP","year":1993.66,"mm":2.98},{"set":"CMAP","year":1993.76,"mm":3.05},{"set":"CMAP","year":1993.84,"mm":3.01},{"set":"CMAP","year":1993.90,"mm":3.21},{"set":"CMAP","year":1993.98,"mm":3.09},{"set":"CMAP","year":1994.06,"mm":2.91},{"set":"CMAP","year":1994.16,"mm":3.00},{"set":"CMAP","year":1994.26,"mm":3.05},{"set":"CMAP","year":1994.36,"mm":3.03},{"set":"CMAP","year":1994.46,"mm":2.94},{"set":"CMAP","year":1994.56,"mm":3.01},{"set":"CMAP","year":1994.66,"mm":2.94},{"set":"CMAP","year":1994.76,"mm":3.00},{"set":"CMAP","year":1994.86,"mm":2.96},{"set":"CMAP","year":1994.96,"mm":3.09},{"set":"CMAP","year":1995.06,"mm":3.07},{"set":"CMAP","year":1995.16,"mm":2.92},{"set":"CMAP","year":1995.25,"mm":3.00},{"set":"CMAP","year":1995.35,"mm":2.91},{"set":"CMAP","year":1995.45,"mm":3.01},{"set":"CMAP","year":1995.52,"mm":2.92},{"set":"CMAP","year":1995.59,"mm":2.80},{"set":"CMAP","year":1995.67,"mm":3.14},{"set":"CMAP","year":1995.75,"mm":2.91},{"set":"CMAP","year":1995.82,"mm":2.98},{"set":"CMAP","year":1995.92,"mm":3.09},{"set":"CMAP","year":1996.02,"mm":3.01},{"set":"CMAP","year":1996.09,"mm":3.07},{"set":"CMAP","year":1996.17,"mm":3.00},{"set":"CMAP","year":1996.25,"mm":3.05},{"set":"CMAP","year":1996.35,"mm":2.98},{"set":"CMAP","year":1996.45,"mm":3.03},{"set":"CMAP","year":1996.55,"mm":3.09},{"set":"CMAP","year":1996.62,"mm":2.92},{"set":"CMAP","year":1996.69,"mm":3.05},{"set":"CMAP","year":1996.79,"mm":2.91},{"set":"CMAP","year":1996.87,"mm":3.01},{"set":"CMAP","year":1996.97,"mm":3.07},{"set":"CMAP","year":1997.07,"mm":2.91},{"set":"CMAP","year":1997.16,"mm":2.98},{"set":"CMAP","year":1997.26,"mm":2.92},{"set":"CMAP","year":1997.38,"mm":3.05},{"set":"CMAP","year":1997.46,"mm":3.07},{"set":"CMAP","year":1997.53,"mm":3.01},{"set":"CMAP","year":1997.63,"mm":3.00},{"set":"CMAP","year":1997.73,"mm":2.91},{"set":"CMAP","year":1997.83,"mm":2.89},{"set":"CMAP","year":1997.90,"mm":2.80},{"set":"CMAP","year":1997.98,"mm":2.94},{"set":"CMAP","year":1998.08,"mm":2.96},{"set":"CMAP","year":1998.18,"mm":2.91},{"set":"CMAP","year":1998.28,"mm":2.94},{"set":"CMAP","year":1998.38,"mm":2.96},{"set":"CMAP","year":1998.48,"mm":2.87},{"set":"CMAP","year":1998.58,"mm":2.87},{"set":"CMAP","year":1998.68,"mm":2.82},{"set":"CMAP","year":1998.78,"mm":2.80},{"set":"CMAP","year":1998.88,"mm":2.74},{"set":"CMAP","year":1998.98,"mm":2.76},{"set":"CMAP","year":1999.08,"mm":2.73},{"set":"CMAP","year":1999.18,"mm":2.74},{"set":"CMAP","year":1999.28,"mm":2.74},{"set":"CMAP","year":1999.39,"mm":2.80},{"set":"CMAP","year":1999.49,"mm":2.76},{"set":"CMAP","year":1999.57,"mm":2.80},{"set":"CMAP","year":1999.64,"mm":2.65},{"set":"CMAP","year":1999.71,"mm":2.67},{"set":"CMAP","year":1999.79,"mm":2.69},
{"set":"ERA15","year":1987.02,"mm":3.53},{"set":"ERA15","year":1987.18,"mm":3.09},{"set":"ERA15","year":1987.28,"mm":2.82},{"set":"ERA15","year":1987.43,"mm":2.87},{"set":"ERA15","year":1987.58,"mm":3.00},{"set":"ERA15","year":1987.68,"mm":2.96},{"set":"ERA15","year":1987.78,"mm":2.82},{"set":"ERA15","year":1987.93,"mm":2.98},{"set":"ERA15","year":1988.08,"mm":2.78},{"set":"ERA15","year":1988.23,"mm":2.74},{"set":"ERA15","year":1988.38,"mm":2.76},{"set":"ERA15","year":1988.53,"mm":2.83},{"set":"ERA15","year":1988.68,"mm":2.76},{"set":"ERA15","year":1988.83,"mm":2.89},{"set":"ERA15","year":1988.98,"mm":2.85},{"set":"ERA15","year":1989.14,"mm":2.80},{"set":"ERA15","year":1989.29,"mm":2.87},{"set":"ERA15","year":1989.44,"mm":2.76},{"set":"ERA15","year":1989.59,"mm":2.85},{"set":"ERA15","year":1989.74,"mm":3.02},{"set":"ERA15","year":1989.86,"mm":3.20},{"set":"ERA15","year":1989.94,"mm":3.18},{"set":"ERA15","year":1990.06,"mm":2.87},{"set":"ERA15","year":1990.19,"mm":2.76},{"set":"ERA15","year":1990.34,"mm":2.89},{"set":"ERA15","year":1990.49,"mm":2.85},{"set":"ERA15","year":1990.62,"mm":3.13},{"set":"ERA15","year":1990.69,"mm":2.96},{"set":"ERA15","year":1990.79,"mm":3.07},{"set":"ERA15","year":1990.86,"mm":2.94},{"set":"ERA15","year":1990.94,"mm":3.11},{"set":"ERA15","year":1991.05,"mm":3.28},{"set":"ERA15","year":1991.13,"mm":2.96},{"set":"ERA15","year":1991.25,"mm":2.76},{"set":"ERA15","year":1991.40,"mm":2.85},{"set":"ERA15","year":1991.55,"mm":2.96},{"set":"ERA15","year":1991.70,"mm":3.34},{"set":"ERA15","year":1991.77,"mm":3.38},{"set":"ERA15","year":1991.85,"mm":3.34},{"set":"ERA15","year":1991.90,"mm":3.45},{"set":"ERA15","year":1991.95,"mm":3.20},{"set":"ERA15","year":1992.00,"mm":2.96},{"set":"ERA15","year":1992.10,"mm":2.91},{"set":"ERA15","year":1992.20,"mm":2.98},{"set":"ERA15","year":1992.35,"mm":2.85},{"set":"ERA15","year":1992.50,"mm":2.93},{"set":"ERA15","year":1992.65,"mm":2.78},{"set":"ERA15","year":1992.80,"mm":2.87},{"set":"ERA15","year":1992.96,"mm":2.80},{"set":"ERA15","year":1993.11,"mm":2.89},{"set":"ERA15","year":1993.26,"mm":2.83},{"set":"ERA15","year":1993.41,"mm":2.87},{"set":"ERA15","year":1993.51,"mm":2.76},{"set":"ERA15","year":1993.61,"mm":2.56},{"set":"ERA15","year":1993.66,"mm":2.51},{"set":"ERA15","year":1993.74,"mm":2.96},{"set":"ERA15","year":1993.86,"mm":3.25},{"set":"ERA15","year":1993.96,"mm":3.04},
{"set":"ERA40","year":1987.00,"mm":2.95},{"set":"ERA40","year":1987.13,"mm":2.75},{"set":"ERA40","year":1987.23,"mm":2.60},{"set":"ERA40","year":1987.33,"mm":2.60},{"set":"ERA40","year":1987.58,"mm":3.00},{"set":"ERA40","year":1987.83,"mm":3.25},{"set":"ERA40","year":1987.88,"mm":3.27},{"set":"ERA40","year":1987.96,"mm":3.15},{"set":"ERA40","year":1988.10,"mm":3.33},{"set":"ERA40","year":1988.18,"mm":3.30},{"set":"ERA40","year":1988.28,"mm":3.25},{"set":"ERA40","year":1988.46,"mm":3.38},{"set":"ERA40","year":1988.58,"mm":3.35},{"set":"ERA40","year":1988.63,"mm":3.25},{"set":"ERA40","year":1988.73,"mm":3.32},{"set":"ERA40","year":1988.83,"mm":3.45},{"set":"ERA40","year":1988.90,"mm":3.27},{"set":"ERA40","year":1989.07,"mm":3.54},{"set":"ERA40","year":1989.15,"mm":3.48},{"set":"ERA40","year":1989.24,"mm":3.29},{"set":"ERA40","year":1989.34,"mm":3.23},{"set":"ERA40","year":1989.44,"mm":3.28},{"set":"ERA40","year":1989.59,"mm":3.22},{"set":"ERA40","year":1989.89,"mm":3.45},{"set":"ERA40","year":1989.99,"mm":3.40},{"set":"ERA40","year":1990.07,"mm":3.52},{"set":"ERA40","year":1990.14,"mm":3.28},{"set":"ERA40","year":1990.24,"mm":3.32},{"set":"ERA40","year":1990.34,"mm":3.28},{"set":"ERA40","year":1990.41,"mm":3.30},{"set":"ERA40","year":1990.54,"mm":3.25},{"set":"ERA40","year":1990.67,"mm":3.20},{"set":"ERA40","year":1990.79,"mm":3.20},{"set":"ERA40","year":1990.89,"mm":3.28},{"set":"ERA40","year":1990.99,"mm":3.35},{"set":"ERA40","year":1991.10,"mm":3.48},{"set":"ERA40","year":1991.20,"mm":3.40},{"set":"ERA40","year":1991.28,"mm":3.18},{"set":"ERA40","year":1991.38,"mm":3.25},{"set":"ERA40","year":1991.50,"mm":3.25},{"set":"ERA40","year":1991.62,"mm":3.40},{"set":"ERA40","year":1991.72,"mm":3.60},{"set":"ERA40","year":1991.82,"mm":3.82},{"set":"ERA40","year":1991.92,"mm":4.02},{"set":"ERA40","year":1992.00,"mm":3.80},{"set":"ERA40","year":1992.08,"mm":3.60},{"set":"ERA40","year":1992.18,"mm":3.69},{"set":"ERA40","year":1992.25,"mm":3.72},{"set":"ERA40","year":1992.40,"mm":3.92},{"set":"ERA40","year":1992.48,"mm":3.90},{"set":"ERA40","year":1992.65,"mm":3.68},{"set":"ERA40","year":1992.80,"mm":3.78},{"set":"ERA40","year":1992.95,"mm":3.78},{"set":"ERA40","year":1993.09,"mm":3.52},{"set":"ERA40","year":1993.21,"mm":3.56},{"set":"ERA40","year":1993.39,"mm":3.60},{"set":"ERA40","year":1993.49,"mm":3.48},{"set":"ERA40","year":1993.56,"mm":3.45},{"set":"ERA40","year":1993.66,"mm":3.38},{"set":"ERA40","year":1993.79,"mm":3.56},{"set":"ERA40","year":1993.91,"mm":3.68},{"set":"ERA40","year":1994.01,"mm":3.65},{"set":"ERA40","year":1994.11,"mm":3.58},{"set":"ERA40","year":1994.26,"mm":3.60},{"set":"ERA40","year":1994.39,"mm":3.63},{"set":"ERA40","year":1994.46,"mm":3.58},{"set":"ERA40","year":1994.56,"mm":3.63},{"set":"ERA40","year":1994.71,"mm":3.70},{"set":"ERA40","year":1994.81,"mm":3.85},{"set":"ERA40","year":1994.91,"mm":4.03},{"set":"ERA40","year":1995.02,"mm":3.92},{"set":"ERA40","year":1995.15,"mm":3.77},{"set":"ERA40","year":1995.25,"mm":3.90},{"set":"ERA40","year":1995.37,"mm":3.85},{"set":"ERA40","year":1995.47,"mm":3.79},{"set":"ERA40","year":1995.57,"mm":3.81},{"set":"ERA40","year":1995.67,"mm":3.79},{"set":"ERA40","year":1995.75,"mm":3.77},{"set":"ERA40","year":1995.87,"mm":3.94},{"set":"ERA40","year":1995.97,"mm":4.03},{"set":"ERA40","year":1996.07,"mm":4.01},{"set":"ERA40","year":1996.17,"mm":4.00},{"set":"ERA40","year":1996.25,"mm":4.01},{"set":"ERA40","year":1996.32,"mm":4.08},{"set":"ERA40","year":1996.39,"mm":3.96},{"set":"ERA40","year":1996.47,"mm":4.01},{"set":"ERA40","year":1996.57,"mm":3.94},{"set":"ERA40","year":1996.67,"mm":3.90},{"set":"ERA40","year":1996.79,"mm":3.91},{"set":"ERA40","year":1996.92,"mm":4.03},{"set":"ERA40","year":1996.97,"mm":4.07},{"set":"ERA40","year":1997.05,"mm":3.63},{"set":"ERA40","year":1997.13,"mm":3.61},{"set":"ERA40","year":1997.20,"mm":3.55},{"set":"ERA40","year":1997.30,"mm":3.72},{"set":"ERA40","year":1997.40,"mm":3.85},{"set":"ERA40","year":1997.48,"mm":3.67},{"set":"ERA40","year":1997.58,"mm":3.74},{"set":"ERA40","year":1997.68,"mm":3.63},{"set":"ERA40","year":1997.78,"mm":3.68},{"set":"ERA40","year":1997.90,"mm":3.84},{"set":"ERA40","year":1998.03,"mm":3.81},{"set":"ERA40","year":1998.13,"mm":3.69},{"set":"ERA40","year":1998.23,"mm":3.74},{"set":"ERA40","year":1998.33,"mm":3.73},{"set":"ERA40","year":1998.40,"mm":3.86},{"set":"ERA40","year":1998.48,"mm":3.82},{"set":"ERA40","year":1998.58,"mm":3.71},{"set":"ERA40","year":1998.68,"mm":3.67},{"set":"ERA40","year":1998.78,"mm":3.68},{"set":"ERA40","year":1998.88,"mm":3.85},{"set":"ERA40","year":1998.96,"mm":3.98},{"set":"ERA40","year":1999.03,"mm":3.92},{"set":"ERA40","year":1999.09,"mm":3.72},{"set":"ERA40","year":1999.19,"mm":3.85},{"set":"ERA40","year":1999.27,"mm":3.92},{"set":"ERA40","year":1999.37,"mm":3.89},{"set":"ERA40","year":1999.44,"mm":3.94},{"set":"ERA40","year":1999.54,"mm":3.86},{"set":"ERA40","year":1999.59,"mm":3.91},{"set":"ERA40","year":1999.67,"mm":3.70},{"set":"ERA40","year":1999.77,"mm":3.94},{"set":"ERA40","year":1999.89,"mm":3.94},{"set":"ERA40","year":2000.04,"mm":3.90},{"set":"ERA40","year":2000.19,"mm":3.97},{"set":"ERA40","year":2000.29,"mm":4.10},{"set":"ERA40","year":2000.39,"mm":4.18},{"set":"ERA40","year":2000.47,"mm":4.14},{"set":"ERA40","year":2000.54,"mm":4.00},{"set":"ERA40","year":2000.64,"mm":4.01},{"set":"ERA40","year":2000.74,"mm":4.00},{"set":"ERA40","year":2000.84,"mm":4.04},{"set":"ERA40","year":2000.94,"mm":4.02},{"set":"ERA40","year":2001.05,"mm":3.95},{"set":"ERA40","year":2001.15,"mm":3.86},{"set":"ERA40","year":2001.25,"mm":4.02},{"set":"ERA40","year":2001.35,"mm":4.09},{"set":"ERA40","year":2001.45,"mm":4.06},{"set":"ERA40","year":2001.50,"mm":4.12},{"set":"ERA40","year":2001.60,"mm":4.03},{"set":"ERA40","year":2001.70,"mm":4.00},{"set":"ERA40","year":2001.80,"mm":4.02},{"set":"ERA40","year":2001.90,"mm":4.06},{"set":"ERA40","year":2001.95,"mm":4.13},{"set":"ERA40","year":2002.00,"mm":4.06}
],
"cap":[
{"line":1,"text":"Figure 1. Monthly mean precipitation over the ocean for"},
{"line":2,"text":"a) 1958-1972,"},
{"line":3,"text":"b) 1973-1988,"},
{"line":4,"text":"c) 1989-2001 (plus initialization period 87/88)"}
]
},
"spacing":36,
"vconcat":[
{"hconcat":[
 {
  "width":500,"height":370,
  "title":{"text":"a)","dx":-55,"dy":17},
  "data":{"name":"pa"},
  "layer":[
   {"mark":{"type":"line"},
    "encoding":{
     "x":{"field":"year","type":"quantitative","scale":{"domain":[1958,1973],"nice":false,"zero":false},
      "axis":{"orient":"bottom","title":"Time [year]","values":[1958,1959,1960,1961,1962,1963,1964,1965,1966,1967,1968,1969,1970,1971,1972,1973],"labelExpr":"(datum.value-1958)%5==0 ? format(datum.value,'d') : ''","tickSize":{"condition":{"test":"(datum.value-1958)%5==0","value":8},"value":5},"labelPadding":9,"titlePadding":6}},
     "y":{"field":"mm","type":"quantitative","scale":{"domain":[2,4],"nice":false,"zero":false},
      "axis":{"orient":"left","title":"Precipitation [mm/day]","values":[2.0,2.1,2.2,2.3,2.4,2.5,2.6,2.7,2.8,2.9,3.0,3.1,3.2,3.3,3.4,3.5,3.6,3.7,3.8,3.9,4.0],"labelExpr":"abs(datum.value*2-round(datum.value*2))<0.01 ? format(datum.value,'.1f') : ''","tickSize":{"condition":{"test":"abs(datum.value*2-round(datum.value*2))<0.01","value":8},"value":5},"labelPadding":6,"titlePadding":12}},
     "color":{"field":"set","type":"nominal","scale":{"domain":["NCEP","ERA40"],"range":["#111111","#33a9d0"]},"legend":{"orient":"top-left","offset":10,"symbolOffset":3,"rowPadding":0}},
     "strokeDash":{"field":"set","type":"nominal","scale":{"domain":["NCEP","ERA40"],"range":[[1.5,1.8],[1,0]]},"legend":{"orient":"top-left","offset":10,"symbolOffset":3,"rowPadding":0}},
     "strokeWidth":{"field":"set","type":"nominal","scale":{"domain":["NCEP","ERA40"],"range":[1.6,2.5]},"legend":{"orient":"top-left","offset":10,"symbolOffset":3,"rowPadding":0}}
    }},
   {"mark":{"type":"line","opacity":0},
    "encoding":{
     "x":{"field":"year","type":"quantitative","axis":{"orient":"top","labels":false,"title":"1958−1972: Precipitation over the ocean","titleFontSize":20.5,"titleColor":"#333","titlePadding":-5,"values":[1958,1959,1960,1961,1962,1963,1964,1965,1966,1967,1968,1969,1970,1971,1972,1973],"tickSize":{"condition":{"test":"(datum.value-1958)%5==0","value":8},"value":5}}},
     "y":{"field":"mm","type":"quantitative","axis":{"orient":"right","labels":false,"title":null,"values":[2.0,2.1,2.2,2.3,2.4,2.5,2.6,2.7,2.8,2.9,3.0,3.1,3.2,3.3,3.4,3.5,3.6,3.7,3.8,3.9,4.0],"tickSize":{"condition":{"test":"abs(datum.value*2-round(datum.value*2))<0.01","value":8},"value":5}}}
    }}
  ],
  "resolve":{"axis":{"x":"independent","y":"independent"}}
 },
 {
  "width":505,"height":374,
  "title":{"text":"b)","dx":-55,"dy":17},
  "data":{"name":"pb"},
  "layer":[
   {"mark":{"type":"line"},
    "encoding":{
     "x":{"field":"year","type":"quantitative","scale":{"domain":[1973,1989],"nice":false,"zero":false},
      "axis":{"orient":"bottom","title":"Time [year]","values":[1973,1974,1975,1976,1977,1978,1979,1980,1981,1982,1983,1984,1985,1986,1987,1988,1989],"labelExpr":"(datum.value-1973)%5==0 ? format(datum.value,'d') : ''","tickSize":{"condition":{"test":"(datum.value-1973)%5==0","value":8},"value":5},"labelPadding":11,"titlePadding":5}},
     "y":{"field":"mm","type":"quantitative","scale":{"domain":[2,4],"nice":false,"zero":false},
      "axis":{"orient":"left","title":"Precipitation [mm/day]","values":[2.0,2.1,2.2,2.3,2.4,2.5,2.6,2.7,2.8,2.9,3.0,3.1,3.2,3.3,3.4,3.5,3.6,3.7,3.8,3.9,4.0],"labelExpr":"abs(datum.value*2-round(datum.value*2))<0.01 ? format(datum.value,'.1f') : ''","tickSize":{"condition":{"test":"abs(datum.value*2-round(datum.value*2))<0.01","value":8},"value":5},"labelPadding":6,"titlePadding":12}},
     "color":{"field":"set","type":"nominal","scale":{"domain":["GPCP","NCEP","ERA15","ERA40"],"range":["#000000","#111111","#33a9d0","#33a9d0"]},"legend":{"orient":"bottom-left","offset":9,"symbolOffset":10,"rowPadding":2.5}},
     "strokeDash":{"field":"set","type":"nominal","scale":{"domain":["GPCP","NCEP","ERA15","ERA40"],"range":[[5,3],[1.5,1.8],[5,4],[1,0]]},"legend":{"orient":"bottom-left","offset":9,"symbolOffset":10,"rowPadding":2.5}},
     "strokeWidth":{"field":"set","type":"nominal","scale":{"domain":["GPCP","NCEP","ERA15","ERA40"],"range":[2.4,1.6,2.2,2.5]},"legend":{"orient":"bottom-left","offset":9,"symbolOffset":10,"rowPadding":2.5}}
    }},
   {"mark":{"type":"line","opacity":0},
    "encoding":{
     "x":{"field":"year","type":"quantitative","axis":{"orient":"top","labels":false,"title":"1973−1988: Precipitation over the ocean","titleFontSize":20.5,"titleColor":"#333","titlePadding":-5,"values":[1973,1974,1975,1976,1977,1978,1979,1980,1981,1982,1983,1984,1985,1986,1987,1988,1989],"tickSize":{"condition":{"test":"(datum.value-1973)%5==0","value":8},"value":5}}},
     "y":{"field":"mm","type":"quantitative","axis":{"orient":"right","labels":false,"title":null,"values":[2.0,2.1,2.2,2.3,2.4,2.5,2.6,2.7,2.8,2.9,3.0,3.1,3.2,3.3,3.4,3.5,3.6,3.7,3.8,3.9,4.0],"tickSize":{"condition":{"test":"abs(datum.value*2-round(datum.value*2))<0.01","value":8},"value":5}}}
    }}
  ],
  "resolve":{"axis":{"x":"independent","y":"independent"}}
 }
],"spacing":28,"resolve":{"scale":{"color":"independent","strokeDash":"independent","strokeWidth":"independent"}}},
{"hconcat":[
 {
  "width":497,"height":377,
  "title":{"text":"c)","dx":-55,"dy":20},
  "data":{"name":"pc"},
  "layer":[
   {"mark":{"type":"line"},
    "encoding":{
     "x":{"field":"year","type":"quantitative","scale":{"domain":[1987,2002],"nice":false,"zero":false},
      "axis":{"orient":"bottom","title":"Time [year]","values":[1987,1988,1989,1990,1991,1992,1993,1994,1995,1996,1997,1998,1999,2000,2001,2002],"labelExpr":"(datum.value-1987)%5==0 ? format(datum.value,'d') : ''","tickSize":{"condition":{"test":"(datum.value-1987)%5==0","value":8},"value":5},"labelPadding":10,"titlePadding":3}},
     "y":{"field":"mm","type":"quantitative","scale":{"domain":[2.3,4.35],"nice":false,"zero":false},
      "axis":{"orient":"left","title":"Precipitation [mm/day]","values":[2.3,2.4,2.5,2.6,2.7,2.8,2.9,3.0,3.1,3.2,3.3,3.4,3.5,3.6,3.7,3.8,3.9,4.0,4.1,4.2,4.3],"labelExpr":"abs(datum.value*2-round(datum.value*2))<0.01 ? format(datum.value,'.1f') : ''","tickSize":{"condition":{"test":"abs(datum.value*2-round(datum.value*2))<0.01","value":8},"value":5},"labelPadding":6,"titlePadding":12}},
     "color":{"field":"set","type":"nominal","scale":{"domain":["CMAP","GPCP","ERA15","ERA40"],"range":["#000000","#000000","#33a9d0","#33a9d0"]},"legend":{"orient":"top-left","offset":14,"symbolOffset":0,"rowPadding":0}},
     "strokeDash":{"field":"set","type":"nominal","scale":{"domain":["CMAP","GPCP","ERA15","ERA40"],"range":[[1,0],[5,3],[5,4],[1,0]]},"legend":{"orient":"top-left","offset":14,"symbolOffset":0,"rowPadding":0}},
     "strokeWidth":{"field":"set","type":"nominal","scale":{"domain":["CMAP","GPCP","ERA15","ERA40"],"range":[2.2,2.2,2.2,2.4]},"legend":{"orient":"top-left","offset":14,"symbolOffset":0,"rowPadding":0}}
    }},
   {"mark":{"type":"line","opacity":0},
    "encoding":{
     "x":{"field":"year","type":"quantitative","axis":{"orient":"top","labels":false,"title":"1987−2001: Precipitation over the ocean","titleFontSize":20.5,"titleColor":"#333","titlePadding":-12,"values":[1987,1988,1989,1990,1991,1992,1993,1994,1995,1996,1997,1998,1999,2000,2001,2002],"tickSize":{"condition":{"test":"(datum.value-1987)%5==0","value":8},"value":5}}},
     "y":{"field":"mm","type":"quantitative","axis":{"orient":"right","labels":false,"title":null,"values":[2.3,2.4,2.5,2.6,2.7,2.8,2.9,3.0,3.1,3.2,3.3,3.4,3.5,3.6,3.7,3.8,3.9,4.0,4.1,4.2,4.3],"tickSize":{"condition":{"test":"abs(datum.value*2-round(datum.value*2))<0.01","value":8},"value":5}}}
    }}
  ],
  "resolve":{"axis":{"x":"independent","y":"independent"}}
 },
 {
  "width":620,"height":400,
  "data":{"name":"cap"},
  "mark":{"type":"text","align":"left","baseline":"middle","font":"Liberation Serif","fontStyle":"italic","fontSize":27,"color":"#000"},
  "encoding":{
   "x":{"datum":0,"type":"quantitative","scale":{"domain":[0,1]},"axis":null},
   "y":{"field":"line","type":"quantitative","scale":{"domain":[-6.94,6.39],"reverse":true,"nice":false,"zero":false},"axis":null},
   "text":{"field":"text"}
  }
 }
],"spacing":44,"resolve":{"scale":{"color":"independent","strokeDash":"independent","strokeWidth":"independent"}}}
]
}
